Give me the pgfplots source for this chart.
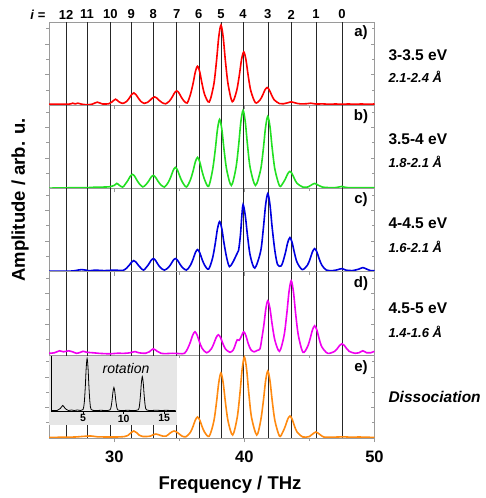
\documentclass[border=0pt]{standalone}
\usepackage{fontspec}
\setmainfont{Liberation Sans}
\usepackage{pgfplots}
\pgfplotsset{compat=1.18}
\definecolor{axgray}{HTML}{9A9A9A}
\definecolor{cred}{HTML}{FF0000}
\definecolor{cgreen}{HTML}{22E022}
\definecolor{cblue}{HTML}{0000E0}
\definecolor{cmag}{HTML}{F000F0}
\definecolor{corange}{HTML}{FF8A10}
\definecolor{insetbg}{HTML}{E6E6E6}
\newcommand{\fs}[1]{\fontsize{#1}{#1}\selectfont}
\newcommand{\vlines}{\pgfplotsinvokeforeach{26.3,27.9,29.7,31.3,33.0,34.8,36.5,38.2,39.9,41.8,43.6,45.5,47.5}{\draw[black!85, line width=0.5pt] (axis cs:##1,0) -- (axis cs:##1,83.2);}}
\pgfplotsset{
  panel/.style={
    scale only axis, width=325.3pt, height=83.2pt, anchor=south west,
    xmin=25, xmax=50, ymin=0, ymax=83.2,
    axis line style={draw=axgray, line width=0.5pt},
    xtick={30,40,50}, minor xtick={35,45}, xticklabels={},
    ytick={30.6,61.2}, minor ytick={15.3,45.9,76.5}, yticklabels={},
    xtick pos=bottom, ytick pos=both,
    tick align=center, major tick length=4pt, minor tick length=3pt,
    every tick/.append style={axgray, line width=0.5pt},
    every major y tick/.append style={xshift=-2pt},
    every minor y tick/.append style={xshift=-1.5pt},
    every major x tick/.append style={yshift=-2pt},
    every minor x tick/.append style={yshift=-1.5pt},
  },
  curve/.style={line width=1.6pt, smooth, tension=0.5, mark=none},
}

\begin{document}
\begin{tikzpicture}
\path[use as bounding box] (0pt,0pt) rectangle (485pt,498pt);

% a) 3-3.5 eV
\begin{axis}[panel, at={(49.2pt,392.8pt)}]
\vlines
\addplot[curve, cred] coordinates {
(25,1) (26.5,1) (26.8,2) (27.0,1.3) (27.2,2) (27.5,1) (27.9,0.5) (28.3,1) (28.7,3) (29.1,1.2) (29.6,1.5)
(29.85,3.5) (30.1,6) (30.35,3.5) (30.65,1.8)
(30.95,3.8) (31.16,7.2) (31.33,10.6) (31.5,12.3) (31.67,10.6) (31.84,7.2) (32.05,3.8) (32.3,1.8)
(32.55,2.8) (32.76,5.0) (32.93,7.2) (33.1,8.3) (33.27,7.2) (33.44,5.0) (33.65,2.8) (33.95,1.4)
(34.25,4.3) (34.46,8.3) (34.63,12.3) (34.8,14.3) (34.97,12.3) (35.14,8.3) (35.35,4.3) (35.6,2.2)
(35.85,10.5) (36.06,21.9) (36.23,33.3) (36.4,39) (36.57,33.3) (36.74,21.9) (36.95,10.5) (37.3,3.2)
(37.65,20.8) (37.86,44.5) (38.03,68.2) (38.2,80) (38.37,68.2) (38.54,44.5) (38.75,20.8) (39.07,3.5)
(39.4,14.1) (39.61,29.8) (39.78,45.5) (39.95,53.3) (40.12,45.5) (40.29,29.8) (40.5,14.1) (40.85,2.5)
(41.2,5.2) (41.41,10.2) (41.58,15.2) (41.75,17.7) (41.92,15.2) (42.09,10.2) (42.3,5.2)
(42.7,1.6) (43.0,1.4) (43.3,2.3) (43.6,3.3) (43.9,2.3) (44.3,1.3) (44.8,1.5) (45.1,2) (45.5,1.2)
(46,1.3) (46.5,1) (47,1.2) (47.5,1) (48,1.2) (48.5,1) (49,1.2) (49.5,1) (50,1.2)};
\end{axis}

% b) 3.5-4 eV
\begin{axis}[panel, at={(49.2pt,309.6pt)}]
\vlines
\addplot[curve, cgreen] coordinates {
(25,0.3) (26,0.5) (27,0.7) (28,0.8) (28.5,1.2) (29,1.3) (29.6,1.6) (30.0,3) (30.2,5) (30.4,3) (30.65,1.3)
(30.85,4.3) (31.06,8.2) (31.23,12.1) (31.4,14) (31.57,12.1) (31.74,8.2) (31.95,4.3) (32.2,1.5)
(32.45,4) (32.66,7.6) (32.83,11.2) (33.0,13) (33.17,11.2) (33.34,7.6) (33.55,4) (33.85,1.3)
(34.15,6) (34.36,12) (34.53,18) (34.7,21) (34.87,18) (35.04,12) (35.25,6) (35.55,1.5)
(35.85,8.5) (36.06,17.5) (36.23,26.5) (36.4,31) (36.57,26.5) (36.74,17.5) (36.95,8.5) (37.25,2)
(37.55,18) (37.76,38.4) (37.93,58.8) (38.1,69) (38.27,58.8) (38.44,38.4) (38.65,18) (39.0,3)
(39.35,20.3) (39.56,43.4) (39.73,66.5) (39.9,78) (40.07,66.5) (40.24,43.4) (40.45,20.3) (40.85,3)
(41.25,18.8) (41.46,40) (41.63,61.4) (41.8,72) (41.97,61.4) (42.14,40) (42.35,18.8) (42.7,2.5)
(42.95,5) (43.16,9.8) (43.33,14.6) (43.5,17) (43.67,14.6) (43.84,9.8) (44.05,5)
(44.5,1.3) (44.9,1.5) (45.1,3) (45.4,5) (45.7,3) (46.0,1.3) (46.5,0.8) (47.0,0.8) (47.3,1.5) (47.5,2) (47.7,1.2)
(48.2,0.6) (49,0.8) (50,0.6)};
\end{axis}

% c) 4-4.5 eV
\begin{axis}[panel, at={(49.2pt,226.4pt)}]
\vlines
\addplot[curve, cblue] coordinates {
(25,0.3) (26,0.5) (26.8,0.6) (27.2,1.5) (27.5,2) (27.8,1.5) (28.1,0.8) (28.5,1.5) (28.8,1.3) (29.2,1) (29.6,1.2) (30,1.5) (30.4,1.2) (30.7,1.3)
(30.95,3.5) (31.16,6.5) (31.33,9.5) (31.5,11) (31.67,9.5) (31.84,6.5) (32.05,3.5) (32.25,1.5)
(32.45,4) (32.66,7.6) (32.83,11.2) (33,13) (33.17,11.2) (33.34,7.6) (33.55,4) (33.85,1.5)
(34.15,4) (34.36,7.6) (34.53,11.2) (34.7,13) (34.87,11.2) (35.04,7.6) (35.25,4) (35.55,1.5)
(35.85,6.25) (36.06,12.55) (36.23,18.85) (36.4,22) (36.57,18.85) (36.74,12.55) (36.95,6.25) (37.25,2.5)
(37.55,13.25) (37.76,28) (37.93,42.7) (38.1,50) (38.27,42.7) (38.44,28) (38.65,13.25) (38.85,5)
(39.1,9) (39.4,17) (39.55,21) (39.7,37) (39.8,55) (39.9,67) (40.07,56) (40.24,36) (40.45,16) (40.8,3.5)
(41.25,20.3) (41.46,43.4) (41.63,66.5) (41.8,78) (41.97,66.5) (42.14,43.4) (42.35,20.3) (42.55,7) (42.8,5.5)
(42.95,9.25) (43.16,19.2) (43.33,29) (43.5,34) (43.67,29) (43.84,19.2) (44.05,9.25) (44.45,2)
(44.85,6.5) (45.06,13.1) (45.23,19.7) (45.4,23) (45.57,19.7) (45.74,13.1) (45.95,6.5)
(46.3,1.5) (46.8,1) (47.2,2) (47.5,3) (47.8,1.5) (48.3,1) (48.8,2.5) (49.1,4) (49.4,2.5) (49.7,1) (50,0.8)};
\end{axis}

% d) 4.5-5 eV
\begin{axis}[panel, at={(49.2pt,143.2pt)}]
\vlines
\addplot[curve, cmag] coordinates {
(25,1.5) (25.4,2) (25.8,4) (26.1,3) (26.5,4) (26.8,3) (27.1,1.5) (27.4,2.5) (27.6,3.5) (27.9,2.5) (28.4,2) (28.8,1.5)
(29.2,1.2) (29.7,1) (30.2,1.5) (30.8,1.5) (31.2,2) (31.6,3.2) (31.9,2) (32.4,1.5) (32.7,3) (33.0,6) (33.3,3.5) (33.6,1.5)
(34,1.2) (34.5,1.5) (35,1.2) (35.4,1.5)
(35.65,6.5) (35.86,13.1) (36.03,19.7) (36.2,23) (36.37,19.7) (36.54,13.1) (36.75,6.5) (37.1,2)
(37.45,5.75) (37.66,11.45) (37.83,17.15) (38.0,20) (38.17,17.15) (38.34,11.45) (38.55,5.75) (38.9,2.5)
(39.15,5) (39.3,10) (39.45,15) (39.6,14.5) (39.75,18) (39.95,23) (40.12,19) (40.3,11) (40.5,5) (40.75,3) (41.0,4.5) (41.2,6)
(41.35,17) (41.5,30) (41.65,46) (41.8,54) (41.97,46) (42.14,30) (42.35,14.25) (42.7,3.5)
(43.05,19.25) (43.26,41.15) (43.43,63) (43.6,74) (43.77,63) (43.94,41.15) (44.15,19.25) (44.5,2.5)
(44.85,8) (45.06,16.4) (45.23,24.8) (45.4,29) (45.57,24.8) (45.74,16.4) (45.95,8) (46.4,1.5)
(46.95,3.5) (47.16,6.5) (47.33,9.5) (47.5,11) (47.67,9.5) (47.84,6.5) (48.05,3.5)
(48.5,1.5) (48.8,2) (49.1,4) (49.4,2) (49.7,2) (50,3.5)};
\end{axis}

% e) dissociation
\begin{axis}[panel, at={(49.2pt,60pt)}, xticklabels={30,40,50},
  xticklabel style={font=\bfseries\fs{16.5}, yshift=-7pt}]
\vlines
\addplot[curve, corange] coordinates {
(25,0.5) (26,0.8) (27,1) (27.5,1.5) (28.2,2) (28.7,1.2) (29.5,1) (30.2,1) (30.8,1.5)
(31.1,3) (31.3,5.5) (31.5,7) (31.7,5.5) (31.9,3) (32.2,1.5) (32.5,1.5)
(32.8,2) (33.0,3.3) (33.2,4) (33.4,3.3) (33.7,2) (34.0,2)
(34.25,4.5) (34.45,6.3) (34.6,7) (34.75,6.3) (34.95,4.5) (35.2,2) (35.5,1.2)
(35.85,5.6) (36.06,11.8) (36.23,17.9) (36.4,21) (36.57,17.9) (36.74,11.8) (36.95,5.6) (37.3,1.8)
(37.65,16.6) (37.86,36) (38.03,55.3) (38.2,65) (38.37,55.3) (38.54,36) (38.75,16.6) (39.1,3)
(39.45,20.6) (39.66,44.8) (39.83,68.9) (40.0,81) (40.17,68.9) (40.34,44.8) (40.55,20.6) (40.95,3)
(41.25,17.1) (41.46,37.1) (41.63,57) (41.8,67) (41.97,57) (42.14,37.1) (42.35,17.1) (42.7,1.8)
(42.95,5.9) (43.16,12.3) (43.33,18.8) (43.5,22) (43.67,18.8) (43.84,12.3) (44.05,5.9)
(44.5,1) (45.0,1.5) (45.2,3.5) (45.5,6) (45.8,3.5) (46.1,1) (46.6,0.8) (47.2,1) (47.6,1.2) (48.2,0.8) (48.8,1) (49.3,0.8) (50,0.6)};
\end{axis}

% inset: rotation
\fill[insetbg] (49.2pt,73pt) rectangle (177pt,142pt);
\begin{axis}[scale only axis, width=125pt, height=55pt, anchor=south west, at={(51pt,86.5pt)},
  xmin=1.05, xmax=16.45, ymin=0, ymax=55, clip=false,
  axis x line*=bottom, axis y line*=left,
  axis line style={black, line width=0.5pt, -},
  xtick={5,10,15}, ytick=\empty, tick align=outside, major tick length=2pt,
  every tick/.append style={black, line width=0.5pt},
  xticklabels={5,10,15},
  xticklabel style={font=\bfseries\fs{10.5}, inner sep=1pt}]
\addplot[black, line width=0.8pt, smooth, tension=0.5, mark=none] coordinates {
(1.1,1) (1.8,1) (2.2,3) (2.5,6) (2.8,3) (3.2,1) (3.6,1.5) (3.9,1) (4.3,1.5) (4.7,1)
(5.0,2) (5.15,8.8) (5.28,25.4) (5.38,42.6) (5.5,53) (5.62,42.6) (5.72,25.4) (5.85,8.8) (6.0,2)
(6.5,1) (7.2,1.2) (7.8,1)
(8.3,1.5) (8.45,4.5) (8.58,11.8) (8.68,19.4) (8.8,24) (8.92,19.4) (9.02,11.8) (9.15,4.5) (9.3,1.5)
(9.8,1) (10.5,1.2) (11.2,1)
(11.8,1.7) (11.95,6.1) (12.08,17) (12.18,28.2) (12.3,35) (12.42,28.2) (12.52,17) (12.65,6.1) (12.8,1.7)
(13.4,1) (14,1.3) (14.6,1) (15.2,1.2) (15.8,1) (16.4,1)};
\end{axis}
\node[font=\itshape\fs{14}] at (126pt,130pt) {rotation};

% level labels
\node[font=\bfseries\fs{13}] at (38pt,483.5pt) {\textit{i} =};
\foreach \xx/\lab in {66.1/12, 86.9/11, 110.4/10, 131.2/9, 153.3/8, 176.7/7, 198.8/6, 221.0/5, 243.1/4, 267.8/3, 291.2/2, 315.9/1, 342.0/0}
  \node[font=\bfseries\fs{13}] at (\xx pt,483.5pt) {\lab};

% panel letters
\foreach \yy/\lab in {465/a, 381/b, 298/c, 214/d, 130/e}
  \node[font=\bfseries\fs{15}] at (361pt,\yy pt) {\lab)};

% energy / distance labels
\node[anchor=west, font=\bfseries\fs{15.5}] at (385pt,443pt) {3-3.5 eV};
\node[anchor=west, font=\bfseries\itshape\fs{13}] at (385pt,421pt) {2.1-2.4 Å};
\node[anchor=west, font=\bfseries\fs{15.5}] at (385pt,359pt) {3.5-4 eV};
\node[anchor=west, font=\bfseries\itshape\fs{13}] at (385pt,336pt) {1.8-2.1 Å};
\node[anchor=west, font=\bfseries\fs{15.5}] at (385pt,275pt) {4-4.5 eV};
\node[anchor=west, font=\bfseries\itshape\fs{13}] at (385pt,251pt) {1.6-2.1 Å};
\node[anchor=west, font=\bfseries\fs{15.5}] at (385pt,190pt) {4.5-5 eV};
\node[anchor=west, font=\bfseries\itshape\fs{13}] at (385pt,166pt) {1.4-1.6 Å};
\node[anchor=west, font=\bfseries\itshape\fs{15.5}] at (385pt,101pt) {Dissociation};

% axis titles
\node[rotate=90, font=\bfseries\fs{18.5}] at (20pt,298pt) {Amplitude / arb. u.};
\node[font=\bfseries\fs{18.5}] at (230pt,13pt) {Frequency / THz};
\end{tikzpicture}
\end{document}
